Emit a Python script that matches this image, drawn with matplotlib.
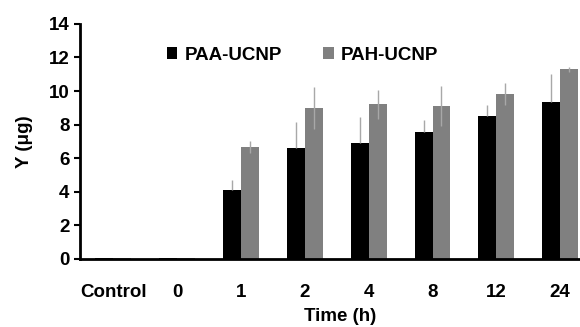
import matplotlib.pyplot as plt
import numpy as np

plt.rcParams['font.family'] = ['Liberation Sans', 'DejaVu Sans']
plt.rcParams['font.weight'] = 'bold'

times = ['Control', '0', '1', '2', '4', '8', '12', '24']
paa = [0.05, 0.05, 4.1, 6.6, 6.9, 7.55, 8.5, 9.35]
paa_err = [0.0, 0.0, 0.6, 1.55, 1.55, 0.7, 0.65, 1.65]
pah = [0.05, 0.05, 6.65, 9.0, 9.2, 9.1, 9.8, 11.3]
pah_err = [0.0, 0.0, 0.35, 1.25, 0.85, 1.2, 0.65, 0.15]

x = np.arange(len(times))
w = 0.28
fs = 13.5

fig = plt.figure(figsize=(5.8, 3.27), dpi=100)
ax = fig.add_axes([0.138, 0.208, 0.862, 0.719])

ax.bar(x - w / 2, paa, w, color='black', label='PAA-UCNP', zorder=2)
ax.bar(x + w / 2, pah, w, color='#808080', label='PAH-UCNP', zorder=2)
ax.errorbar(x - w / 2, paa, yerr=[np.zeros(len(paa)), paa_err], fmt='none',
            ecolor='#a8a8a8', elinewidth=1, capsize=0, zorder=3)
ax.errorbar(x + w / 2, pah, yerr=pah_err, fmt='none', ecolor='#a8a8a8',
            elinewidth=1, capsize=0, zorder=3)

ax.set_ylim(0, 14)
ax.set_yticks(range(0, 15, 2))
ax.set_xlim(-0.52, 7.31)
ax.set_xticks(x)
ax.set_xticklabels(times)
ax.tick_params(axis='x', length=0, pad=18, labelsize=fs)
ax.tick_params(axis='y', length=4, width=1.5, labelsize=fs)
for s in ['top', 'right']:
    ax.spines[s].set_visible(False)
for s in ['left', 'bottom']:
    ax.spines[s].set_linewidth(2)

ax.set_ylabel('Y (μg)', fontsize=fs, fontweight='bold')
ax.yaxis.set_label_coords(-0.094, 0.5)
ax.set_xlabel('Time (h)', fontsize=fs, fontweight='bold')
ax.xaxis.set_label_coords(0.52, -0.207)

ax.legend(loc='upper left', bbox_to_anchor=(0.14, 0.975), ncol=2, frameon=False,
          fontsize=fs, handlelength=0.55, handleheight=0.55, handletextpad=0.4,
          columnspacing=2.2)

plt.savefig('out.png')
